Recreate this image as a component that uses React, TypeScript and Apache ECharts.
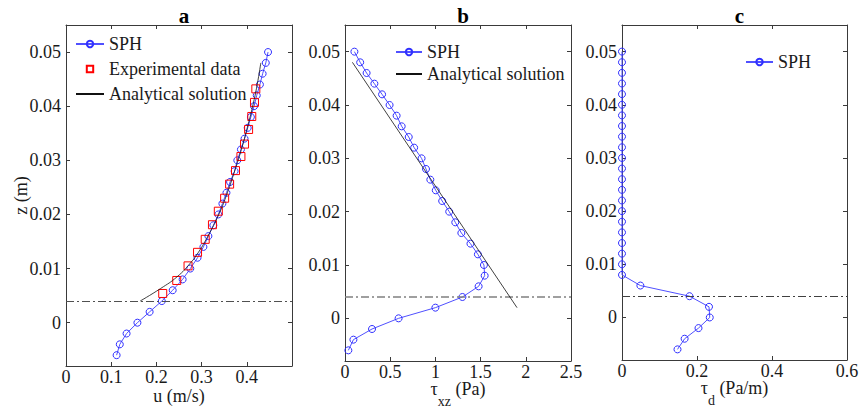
import React, { useEffect, useRef } from "react";
import * as echarts from "echarts";

// ---------- data ----------
const zSph = [
  -0.006, -0.004, -0.002, 0, 0.002, 0.004, 0.006, 0.008, 0.01, 0.012, 0.014, 0.016, 0.018, 0.02,
  0.022, 0.024, 0.026, 0.028, 0.03, 0.032, 0.034, 0.036, 0.038, 0.04, 0.042, 0.044, 0.046, 0.048, 0.05,
];
const uSph = [
  0.112, 0.119, 0.134, 0.158, 0.185, 0.212, 0.236, 0.258, 0.275, 0.291, 0.304, 0.315, 0.326, 0.337,
  0.346, 0.355, 0.363, 0.373, 0.379, 0.387, 0.395, 0.402, 0.409, 0.416, 0.422, 0.429, 0.435, 0.442, 0.447,
];
const expU = [0.214, 0.245, 0.27, 0.291, 0.308, 0.324, 0.337, 0.351, 0.362, 0.375, 0.387, 0.395, 0.404, 0.411, 0.417, 0.42];
const expZ = [0.0054, 0.0078, 0.0105, 0.013, 0.0154, 0.0181, 0.0206, 0.023, 0.0256, 0.0281, 0.0307, 0.033, 0.0357, 0.0381, 0.0407, 0.0432];
const anaUz = [0.004, 0.0063, 0.0085, 0.011, 0.013, 0.016, 0.02, 0.024, 0.028, 0.032, 0.036, 0.04, 0.044, 0.048];
const anaU = [0.164, 0.209, 0.246, 0.275, 0.293, 0.314, 0.338, 0.357, 0.373, 0.388, 0.401, 0.413, 0.423, 0.431];

const tauSph = [
  0.037, 0.093, 0.299, 0.593, 1.0, 1.299, 1.478, 1.545, 1.537, 1.47, 1.388, 1.287, 1.22, 1.153,
  1.075, 1.004, 0.944, 0.896, 0.847, 0.765, 0.705, 0.627, 0.571, 0.493, 0.41, 0.325, 0.239, 0.168, 0.104,
];
const anaTauZ = [0.048, 0.002];
const anaTau = [0.082, 1.903];

const tdSph = [
  0.148, 0.167, 0.204, 0.234, 0.232, 0.18, 0.049, 0, 0, 0, 0, 0, 0, 0,
  0, 0, 0, 0, 0, 0, 0, 0, 0, 0, 0, 0, 0, 0, 0,
];

const interfaceZ = 0.004;
const zTicks = [0, 0.01, 0.02, 0.03, 0.04, 0.05];
const uTicks = [0, 0.1, 0.2, 0.3, 0.4];
const tauTicks = [0, 0.5, 1, 1.5, 2, 2.5];
const tdTicks = [0, 0.2, 0.4, 0.6];
const titles = ["a", "b", "c"];

// ---------- styles ----------
const serif = "Liberation Serif";
const axisColor = "#3a3a3a";
const textColor = "#1a1a1a";
const blue = "#2f2fff";
const blueLine = "#5050ff";

const grids = [
  { left: 66, top: 25, width: 226, height: 341 },
  { left: 345, top: 25, width: 226, height: 336 },
  { left: 622, top: 25, width: 225, height: 335 },
];

const fmt = (v: number) => (v === 0 ? "0" : String(+v.toFixed(3)));

function xAxes(gi: number, min: number, max: number, ticks: number[], name: string, nameGap: number, rich?: any) {
  return [
    {
      type: "value",
      gridIndex: gi,
      position: "bottom",
      min,
      max,
      axisLine: { show: true, onZero: false, lineStyle: { color: axisColor, width: 1 } },
      axisTick: { show: true, inside: true, length: 4, customValues: ticks, lineStyle: { color: axisColor } },
      axisLabel: {
        show: true,
        customValues: ticks,
        formatter: fmt,
        margin: 3,
        lineHeight: 15,
        fontFamily: serif,
        fontSize: 18,
        color: textColor,
        hideOverlap: false,
      },
      splitLine: { show: false },
      name,
      nameLocation: "middle",
      nameGap,
      nameMoveOverlap: false,
      nameTextStyle: { fontFamily: serif, fontSize: 18, color: textColor, rich },
    },
    {
      type: "value",
      gridIndex: gi,
      position: "top",
      min,
      max,
      axisLine: { show: true, onZero: false, lineStyle: { color: axisColor, width: 1 } },
      axisTick: { show: true, inside: true, length: 4, customValues: ticks, lineStyle: { color: axisColor } },
      axisLabel: { show: false },
      splitLine: { show: false },
    },
  ];
}

function yAxes(gi: number, name: string) {
  return [
    {
      type: "value",
      gridIndex: gi,
      position: "left",
      min: -0.008,
      max: 0.055,
      axisLine: { show: true, onZero: false, lineStyle: { color: axisColor, width: 1 } },
      axisTick: { show: true, inside: true, length: 4, customValues: zTicks, lineStyle: { color: axisColor } },
      axisLabel: {
        show: true,
        customValues: zTicks,
        formatter: fmt,
        margin: 5,
        fontFamily: serif,
        fontSize: 18,
        color: textColor,
      },
      splitLine: { show: false },
      name,
      nameLocation: "middle",
      nameGap: 36,
      nameMoveOverlap: false,
      nameTextStyle: { fontFamily: serif, fontSize: 18, color: textColor },
    },
    {
      type: "value",
      gridIndex: gi,
      position: "right",
      min: -0.008,
      max: 0.055,
      axisLine: { show: true, onZero: false, lineStyle: { color: axisColor, width: 1 } },
      axisTick: { show: true, inside: true, length: 4, customValues: zTicks, lineStyle: { color: axisColor } },
      axisLabel: { show: false },
      splitLine: { show: false },
    },
  ];
}

const sphStyle = {
  type: "line",
  name: "SPH",
  symbol: "circle",
  symbolSize: 7,
  showSymbol: true,
  lineStyle: { color: blueLine, width: 1 },
  itemStyle: { color: "rgba(255,255,255,0)", borderColor: blue, borderWidth: 1 },
  z: 3,
};

const dashDot = (color: string, width: number) => ({
  silent: true,
  symbol: "none",
  precision: 5,
  label: { show: false },
  lineStyle: { color, width, type: [8, 3, 2, 3] },
  data: [{ yAxis: interfaceZ }],
});

const subRich = {
  t: { fontFamily: serif, fontSize: 18, color: textColor, verticalAlign: "top", lineHeight: 18 },
  s: { fontFamily: serif, fontSize: 14, color: textColor, verticalAlign: "bottom", lineHeight: 14 },
  sp: { fontSize: 1, lineHeight: 28, width: 0 },
};

const legendText = { fontFamily: serif, fontSize: 18, color: textColor, lineHeight: 22 };

export default function App() {
  const ref = useRef<HTMLDivElement>(null);
  useEffect(() => {
    if (!ref.current) return;
    const chart = echarts.init(ref.current, undefined, { renderer: "svg" });
    const zip = (xs: number[], ys: number[]) => xs.map((x, i) => [x, ys[i]]);
    const option: any = {
      animation: false,
      backgroundColor: "#ffffff",
      title: titles.map((t, i) => ({
        text: t,
        left: grids[i].left + grids[i].width / 2,
        top: 0,
        textAlign: "center",
        textStyle: { fontFamily: serif, fontSize: 21, fontWeight: "bold", color: "#000" },
      })),
      grid: grids.map((g) => ({ ...g, containLabel: false, outerBoundsMode: "none" })),
      xAxis: [
        ...xAxes(0, 0, 0.5, uTicks, "u (m/s)", 21),
        ...xAxes(1, 0, 2.5, tauTicks, "{sp| }{t|τ}{s|xz}{t| (Pa)}", 19, subRich),
        ...xAxes(2, 0, 0.6, tdTicks, "{sp| }{t|τ}{s|d}{t| (Pa/m)}", 19, subRich),
      ],
      yAxis: [...yAxes(0, "z (m)"), ...yAxes(1, ""), ...yAxes(2, "")],
      legend: [
        {
          orient: "vertical",
          left: 75,
          top: 33,
          padding: 0,
          itemWidth: 28,
          itemHeight: 8,
          itemGap: 3,
          textStyle: legendText,
          data: ["SPH", "Experimental data", "Analytical solution"],
        },
        {
          orient: "vertical",
          left: 395,
          top: 41,
          padding: 0,
          itemWidth: 26,
          itemHeight: 8,
          itemGap: 0,
          textStyle: legendText,
          data: ["SPH", "Analytical solution"],
        },
        {
          orient: "vertical",
          left: 745,
          top: 51,
          padding: 0,
          itemWidth: 27,
          itemHeight: 8,
          itemGap: 0,
          textStyle: legendText,
          data: ["SPH"],
        },
      ],
      series: [
        {
          ...sphStyle,
          xAxisIndex: 0,
          yAxisIndex: 0,
          data: zip(uSph, zSph),
          markLine: dashDot("#505050", 1),
        },
        {
          type: "line",
          name: "Experimental data",
          xAxisIndex: 0,
          yAxisIndex: 0,
          symbol: "rect",
          symbolSize: 8,
          showSymbol: true,
          lineStyle: { width: 0, opacity: 0 },
          itemStyle: { color: "rgba(255,255,255,0)", borderColor: "#ff0000", borderWidth: 1 },
          data: zip(expU, expZ),
          z: 4,
        },
        {
          type: "line",
          name: "Analytical solution",
          xAxisIndex: 0,
          yAxisIndex: 0,
          symbol: "none",
          showSymbol: false,
          smooth: true,
          lineStyle: { color: "#111", width: 0.8 },
          itemStyle: { color: "rgba(0,0,0,0)" },
          data: zip(anaU, anaUz),
          z: 5,
        },
        {
          ...sphStyle,
          xAxisIndex: 2,
          yAxisIndex: 2,
          data: zip(tauSph, zSph),
          markLine: dashDot("#808080", 1.5),
        },
        {
          type: "line",
          name: "Analytical solution",
          xAxisIndex: 2,
          yAxisIndex: 2,
          symbol: "none",
          showSymbol: false,
          lineStyle: { color: "#111", width: 0.8 },
          itemStyle: { color: "rgba(0,0,0,0)" },
          data: zip(anaTau, anaTauZ),
          z: 5,
        },
        {
          ...sphStyle,
          xAxisIndex: 4,
          yAxisIndex: 4,
          data: zip(tdSph, zSph),
          markLine: dashDot("#404040", 1),
        },
      ],
    };
    chart.setOption(option);
    return () => chart.dispose();
  }, []);
  return (
    <div style={{ position: "fixed", left: 0, top: 0, width: 861, height: 411, background: "#fff" }}>
      <div ref={ref} style={{ width: 861, height: 411 }} />
    </div>
  );
}
